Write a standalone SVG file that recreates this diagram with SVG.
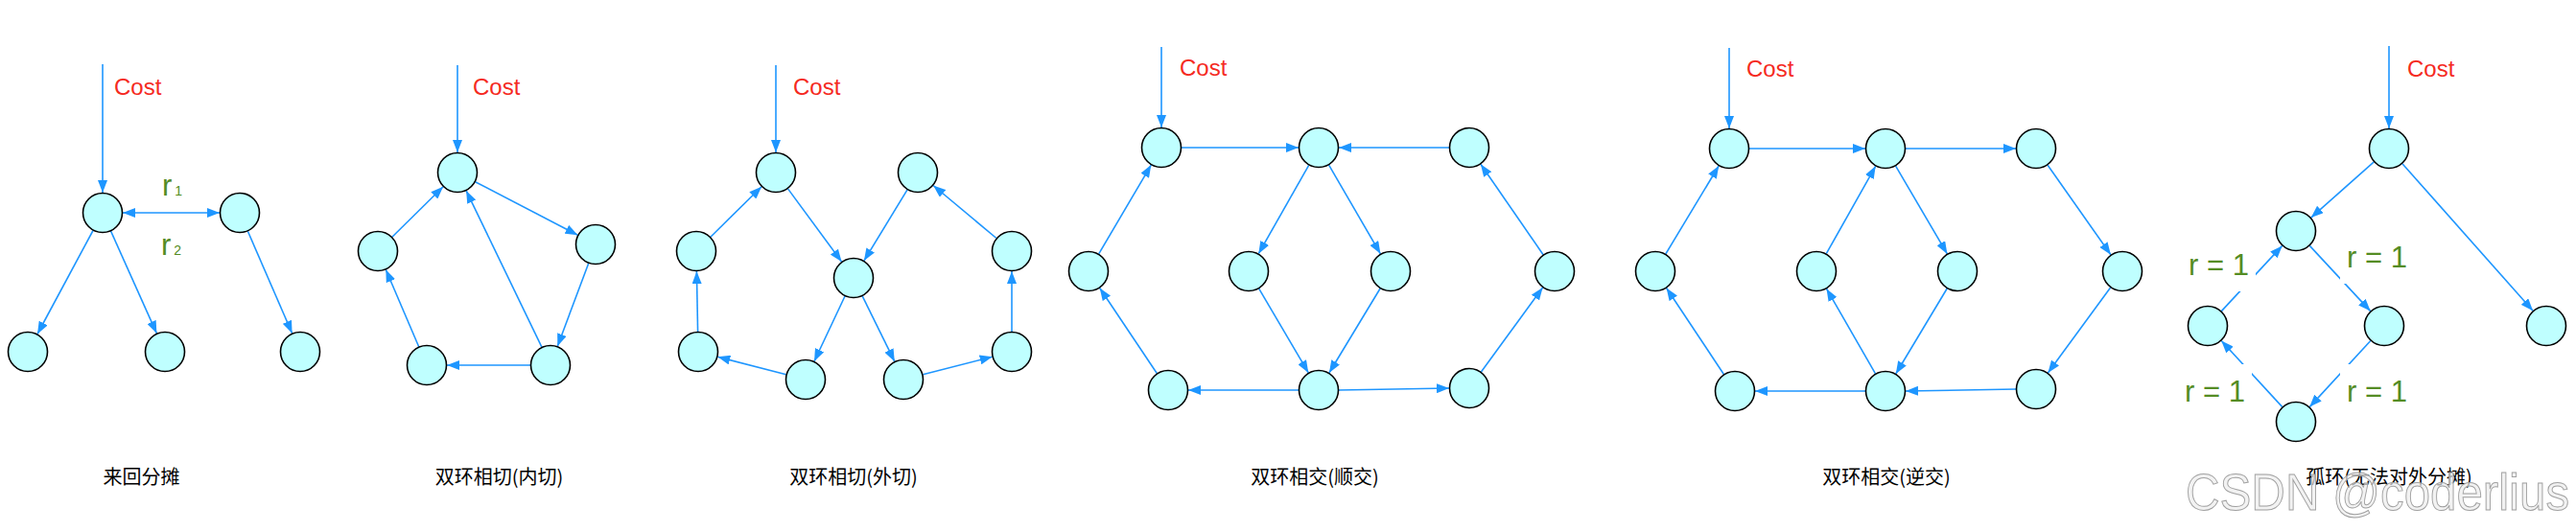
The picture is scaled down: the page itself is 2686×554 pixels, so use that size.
<svg xmlns="http://www.w3.org/2000/svg" width="2686" height="554" viewBox="0 0 2686 554">
<style>
.n{fill:#bfffff;stroke:#000;stroke-width:1.6}
.e{stroke:#1e96ff;stroke-width:1.6;fill:none;marker-end:url(#arr)}
.cost{fill:#f52a1f;font-family:"Liberation Sans",Arial,sans-serif;font-size:24px}
.r{fill:#548c24;font-family:"Liberation Sans",Arial,sans-serif;font-size:31px}
.rs{font-size:14px}
.lab{fill:#000;font-family:"Noto Sans CJK SC",sans-serif;font-size:20px;text-anchor:middle}
.bg{fill:#fff}
</style>
<defs>
<marker id="arr" viewBox="0 0 13 10" refX="13" refY="5" markerWidth="13" markerHeight="10" markerUnits="userSpaceOnUse" orient="auto-start-reverse">
<path d="M0,0 L13,5 L0,10 z" fill="#1e96ff"/>
</marker>
</defs>
<rect width="2686" height="554" fill="#fff"/>

<g id="connectors">
<!-- panel 1 -->
<line class="e" x1="107" y1="67" x2="107" y2="201"/>
<line class="e" x1="128" y1="222" x2="229" y2="222" marker-start="url(#arr)"/>
<line class="e" x1="97" y1="240.5" x2="39" y2="348.5"/>
<line class="e" x1="115.6" y1="241.2" x2="163.4" y2="347.8"/>
<line class="e" x1="258.4" y1="241.3" x2="304.6" y2="347.7"/>
<!-- panel 2 -->
<line class="e" x1="477" y1="68" x2="477" y2="159"/>
<line class="e" x1="495.6" y1="189.7" x2="602.4" y2="245.3"/>
<line class="e" x1="613.7" y1="274.7" x2="581.3" y2="361.3"/>
<line class="e" x1="553" y1="381" x2="466" y2="381"/>
<line class="e" x1="436.7" y1="361.7" x2="402.3" y2="281.3"/>
<line class="e" x1="408.9" y1="247.2" x2="462.1" y2="194.8"/>
<line class="e" x1="564.9" y1="362.1" x2="486.1" y2="198.9"/>
<!-- panel 3 -->
<line class="e" x1="809" y1="68" x2="809" y2="159"/>
<line class="e" x1="821.5" y1="196.9" x2="877.6" y2="273.1"/>
<line class="e" x1="946.1" y1="197.9" x2="900.9" y2="272.1"/>
<line class="e" x1="881" y1="309" x2="849" y2="377"/>
<line class="e" x1="899.2" y1="308.9" x2="932.8" y2="377.2"/>
<line class="e" x1="819.7" y1="390.7" x2="748.3" y2="372.3"/>
<line class="e" x1="727.6" y1="346" x2="726.4" y2="283"/>
<line class="e" x1="740.9" y1="247.2" x2="794.1" y2="194.8"/>
<line class="e" x1="962.3" y1="390.8" x2="1034.7" y2="372.2"/>
<line class="e" x1="1055" y1="346" x2="1055" y2="283"/>
<line class="e" x1="1038.9" y1="248.5" x2="973.1" y2="193.5"/>
<!-- panel 4 -->
<line class="e" x1="1211" y1="49" x2="1211" y2="133"/>
<line class="e" x1="1232" y1="154" x2="1354" y2="154"/>
<line class="e" x1="1511" y1="154" x2="1396" y2="154"/>
<line class="e" x1="1364.7" y1="172.3" x2="1312.3" y2="264.7"/>
<line class="e" x1="1385.6" y1="172.2" x2="1439.4" y2="264.8"/>
<line class="e" x1="1312.7" y1="301.1" x2="1364.3" y2="388.9"/>
<line class="e" x1="1439.1" y1="301" x2="1385.9" y2="389"/>
<line class="e" x1="1354" y1="407" x2="1239" y2="407"/>
<line class="e" x1="1396" y1="407" x2="1511" y2="405"/>
<line class="e" x1="1206.3" y1="389.5" x2="1146.7" y2="300.5"/>
<line class="e" x1="1145.7" y1="264.9" x2="1200.3" y2="172.1"/>
<line class="e" x1="1544.4" y1="388" x2="1608.6" y2="300"/>
<line class="e" x1="1609.1" y1="265.7" x2="1543.9" y2="171.3"/>
<!-- panel 5 -->
<line class="e" x1="1803" y1="50" x2="1803" y2="134"/>
<line class="e" x1="1824" y1="155" x2="1945" y2="155"/>
<line class="e" x1="1987" y1="155" x2="2102" y2="155"/>
<line class="e" x1="1976.6" y1="173.1" x2="2030.4" y2="264.9"/>
<line class="e" x1="2030.2" y1="301" x2="1976.8" y2="390"/>
<line class="e" x1="1955.5" y1="389.8" x2="1904.5" y2="301.2"/>
<line class="e" x1="1904.3" y1="264.7" x2="1955.7" y2="173.3"/>
<line class="e" x1="2135.1" y1="172.2" x2="2200.9" y2="265.8"/>
<line class="e" x1="2200.6" y1="300" x2="2135.4" y2="389"/>
<line class="e" x1="2102" y1="406" x2="1987" y2="408"/>
<line class="e" x1="1945" y1="408" x2="1830" y2="408"/>
<line class="e" x1="1797.4" y1="390.5" x2="1737.6" y2="300.5"/>
<line class="e" x1="1736.8" y1="265" x2="1792.2" y2="173"/>
<!-- panel 6 -->
<line class="e" x1="2491" y1="48" x2="2491" y2="134"/>
<line class="e" x1="2475.3" y1="168.9" x2="2409.7" y2="227.1"/>
<line class="e" x1="2504.9" y1="170.7" x2="2641.1" y2="324.3"/>
<line class="e" x1="2408.3" y1="256.4" x2="2471.7" y2="324.6"/>
<line class="e" x1="2471.8" y1="355.5" x2="2408.2" y2="424.6"/>
<line class="e" x1="2379.8" y1="424.6" x2="2316.2" y2="355.5"/>
<line class="e" x1="2316.3" y1="324.6" x2="2379.7" y2="256.4"/>
</g>

<g id="p1">
<g id="p1a"><circle class="n" cx="107" cy="222" r="20.5"/></g>
<g id="p1b"><circle class="n" cx="250" cy="222" r="20.5"/></g>
<g id="p1c"><circle class="n" cx="29" cy="367" r="20.5"/></g>
<g id="p1d"><circle class="n" cx="172" cy="367" r="20.5"/></g>
<g id="p1e"><circle class="n" cx="313" cy="367" r="20.5"/></g>
</g>
<g id="p2">
<g id="p2a"><circle class="n" cx="477" cy="180" r="20.5"/></g>
<g id="p2b"><circle class="n" cx="621" cy="255" r="20.5"/></g>
<g id="p2c"><circle class="n" cx="394" cy="262" r="20.5"/></g>
<g id="p2d"><circle class="n" cx="445" cy="381" r="20.5"/></g>
<g id="p2e"><circle class="n" cx="574" cy="381" r="20.5"/></g>
</g>
<g id="p3">
<g id="p3a"><circle class="n" cx="809" cy="180" r="20.5"/></g>
<g id="p3b"><circle class="n" cx="957" cy="180" r="20.5"/></g>
<g id="p3c"><circle class="n" cx="726" cy="262" r="20.5"/></g>
<g id="p3d"><circle class="n" cx="1055" cy="262" r="20.5"/></g>
<g id="p3e"><circle class="n" cx="890" cy="290" r="20.5"/></g>
<g id="p3f"><circle class="n" cx="728" cy="367" r="20.5"/></g>
<g id="p3g"><circle class="n" cx="840" cy="396" r="20.5"/></g>
<g id="p3h"><circle class="n" cx="942" cy="396" r="20.5"/></g>
<g id="p3i"><circle class="n" cx="1055" cy="367" r="20.5"/></g>
</g>
<g id="p4">
<g id="p4a"><circle class="n" cx="1211" cy="154" r="20.5"/></g>
<g id="p4b"><circle class="n" cx="1375" cy="154" r="20.5"/></g>
<g id="p4c"><circle class="n" cx="1532" cy="154" r="20.5"/></g>
<g id="p4d"><circle class="n" cx="1135" cy="283" r="20.5"/></g>
<g id="p4e"><circle class="n" cx="1302" cy="283" r="20.5"/></g>
<g id="p4f"><circle class="n" cx="1450" cy="283" r="20.5"/></g>
<g id="p4g"><circle class="n" cx="1621" cy="283" r="20.5"/></g>
<g id="p4h"><circle class="n" cx="1218" cy="407" r="20.5"/></g>
<g id="p4i"><circle class="n" cx="1375" cy="407" r="20.5"/></g>
<g id="p4j"><circle class="n" cx="1532" cy="405" r="20.5"/></g>
</g>
<g id="p5">
<g id="p5a"><circle class="n" cx="1803" cy="155" r="20.5"/></g>
<g id="p5b"><circle class="n" cx="1966" cy="155" r="20.5"/></g>
<g id="p5c"><circle class="n" cx="2123" cy="155" r="20.5"/></g>
<g id="p5d"><circle class="n" cx="1726" cy="283" r="20.5"/></g>
<g id="p5e"><circle class="n" cx="1894" cy="283" r="20.5"/></g>
<g id="p5f"><circle class="n" cx="2041" cy="283" r="20.5"/></g>
<g id="p5g"><circle class="n" cx="2213" cy="283" r="20.5"/></g>
<g id="p5h"><circle class="n" cx="1809" cy="408" r="20.5"/></g>
<g id="p5i"><circle class="n" cx="1966" cy="408" r="20.5"/></g>
<g id="p5j"><circle class="n" cx="2123" cy="406" r="20.5"/></g>
</g>
<g id="p6">
<g id="p6a"><circle class="n" cx="2491" cy="155" r="20.5"/></g>
<g id="p6b"><circle class="n" cx="2394" cy="241" r="20.5"/></g>
<g id="p6c"><circle class="n" cx="2302" cy="340" r="20.5"/></g>
<g id="p6d"><circle class="n" cx="2486" cy="340" r="20.5"/></g>
<g id="p6e"><circle class="n" cx="2655" cy="340" r="20.5"/></g>
<g id="p6f"><circle class="n" cx="2394" cy="440" r="20.5"/></g>
</g>

<g id="cost-labels">
<text class="cost" x="119" y="99">Cost</text>
<text class="cost" x="493" y="99">Cost</text>
<text class="cost" x="827" y="99">Cost</text>
<text class="cost" x="1230" y="79">Cost</text>
<text class="cost" x="1821" y="80">Cost</text>
<text class="cost" x="2510" y="80">Cost</text>
</g>

<g id="r-labels">
<text class="r" x="169" y="204">r<tspan class="rs" dx="3">1</tspan></text>
<text class="r" x="168" y="266">r<tspan class="rs" dx="3">2</tspan></text>
<rect class="bg" x="2275" y="248" width="77" height="56"/>
<text class="r" x="2282" y="287">r = 1</text>
<rect class="bg" x="2440" y="240" width="77" height="56"/>
<text class="r" x="2447" y="279">r = 1</text>
<rect class="bg" x="2271" y="380" width="77" height="56"/>
<text class="r" x="2278" y="419">r = 1</text>
<rect class="bg" x="2440" y="380" width="77" height="56"/>
<text class="r" x="2447" y="419">r = 1</text>
</g>

<g id="captions">
<text class="lab" x="147.5" y="505">来回分摊</text>
<text class="lab" x="520.5" y="505">双环相切(内切)</text>
<text class="lab" x="890" y="505">双环相切(外切)</text>
<text class="lab" x="1371" y="505">双环相交(顺交)</text>
<text class="lab" x="1967" y="505">双环相交(逆交)</text>
<text class="lab" x="2491" y="505">孤环(无法对外分摊)</text>
</g>

<text x="2279" y="532" textLength="400" lengthAdjust="spacingAndGlyphs" font-family="'Liberation Sans',Arial,sans-serif" font-size="54" fill="#ececec" fill-opacity="0.7" stroke="#a0a0a0" stroke-width="1">CSDN @coderlius</text>
</svg>
